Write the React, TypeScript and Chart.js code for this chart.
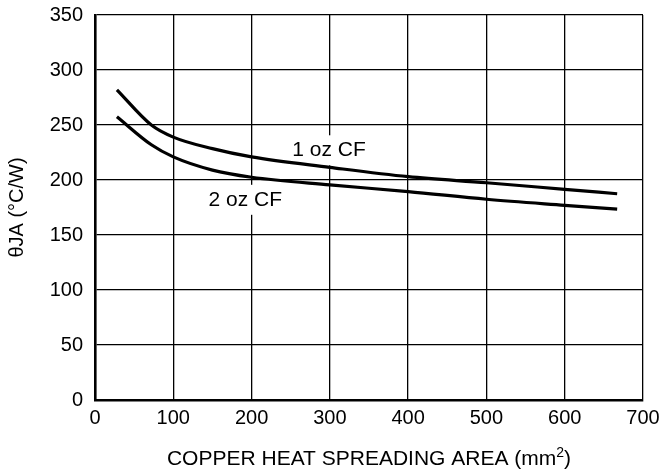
import React, { useEffect, useRef } from "react";
import { Chart, registerables } from "chart.js";

Chart.register(...registerables);

const xTicks = [0, 100, 200, 300, 400, 500, 600, 700];
const yTicks = [0, 50, 100, 150, 200, 250, 300, 350];

const oneOzX = [28, 72, 100, 150, 200, 300, 400, 500, 600, 667];
const oneOzY = [282, 250, 239, 228.5, 221, 211.5, 203, 197.5, 191.5, 187.5];

const twoOzX = [28, 72, 100, 150, 200, 300, 400, 500, 600, 667];
const twoOzY = [257.5, 232, 221, 209, 202.5, 195.5, 189.5, 182.5, 177, 173.5];

const curveLabels = ["1 oz CF", "2 oz CF"];
const curveLabelX = [299, 192];
const curveLabelY = [227, 182];

const xTitleMain = "COPPER HEAT SPREADING AREA (mm";
const xTitleSup = "2";
const xTitleEnd = ")";

const FONT = "'Liberation Sans', Arial, Helvetica, sans-serif";

export default function App() {
  const ref = useRef<HTMLCanvasElement | null>(null);

  useEffect(() => {
    if (!ref.current) return;
    const textPlugin = {
      id: "texts",
      beforeDatasetsDraw(chart: any) {
        const { ctx, scales } = chart;
        ctx.save();
        ctx.font = `21px ${FONT}`;
        ctx.fillStyle = "#fff";
        curveLabels.forEach((t, i) => {
          const w = ctx.measureText(t).width + 8;
          const px = scales.x.getPixelForValue(curveLabelX[i]);
          const py = scales.y.getPixelForValue(curveLabelY[i]);
          ctx.fillRect(px - w / 2, py - 15, w, 30);
        });
        ctx.restore();
      },
      afterDraw(chart: any) {
        const { ctx, scales, chartArea } = chart;
        ctx.save();
        ctx.fillStyle = "#000";
        ctx.font = `21px ${FONT}`;
        ctx.textAlign = "center";
        ctx.textBaseline = "middle";
        curveLabels.forEach((t, i) => {
          ctx.fillText(
            t,
            scales.x.getPixelForValue(curveLabelX[i]),
            scales.y.getPixelForValue(curveLabelY[i])
          );
        });
        ctx.textBaseline = "alphabetic";
        ctx.textAlign = "left";
        const mainFont = `21px ${FONT}`;
        const supFont = `14px ${FONT}`;
        ctx.font = mainFont;
        const w1 = ctx.measureText(xTitleMain).width;
        const w3 = ctx.measureText(xTitleEnd).width;
        ctx.font = supFont;
        const w2 = ctx.measureText(xTitleSup).width;
        const total = w1 + w2 + w3;
        const cx = (chartArea.left + chartArea.right) / 2;
        const baseY = chartArea.bottom + 65;
        let x0 = cx - total / 2;
        ctx.font = mainFont;
        ctx.fillText(xTitleMain, x0, baseY);
        x0 += w1;
        ctx.font = supFont;
        ctx.fillText(xTitleSup, x0, baseY - 8);
        x0 += w2;
        ctx.font = mainFont;
        ctx.fillText(xTitleEnd, x0, baseY);
        ctx.restore();
      },
    };

    const chart = new Chart(ref.current, {
      type: "line",
      data: {
        datasets: [
          {
            label: "1 oz CF",
            data: oneOzX.map((x, i) => ({ x, y: oneOzY[i] })),
            borderColor: "#000",
            borderWidth: 3.2,
            pointRadius: 0,
            fill: false,
            cubicInterpolationMode: "monotone",
          },
          {
            label: "2 oz CF",
            data: twoOzX.map((x, i) => ({ x, y: twoOzY[i] })),
            borderColor: "#000",
            borderWidth: 3.2,
            pointRadius: 0,
            fill: false,
            cubicInterpolationMode: "monotone",
          },
        ],
      },
      options: {
        animation: false,
        responsive: true,
        maintainAspectRatio: false,
        layout: { padding: { left: 0, right: 18, top: 15, bottom: 0 } },
        plugins: {
          legend: { display: false },
          tooltip: { enabled: false },
        },
        scales: {
          x: {
            type: "linear",
            min: 0,
            max: 700,
            afterBuildTicks(scale: any) {
              scale.ticks = xTicks.map((v) => ({ value: v }));
            },
            afterFit(scale: any) {
              scale.height = 73;
              scale.paddingLeft = 0;
              scale.paddingRight = 0;
            },
            ticks: {
              color: "#000",
              font: { family: FONT, size: 20 },
              padding: 6,
              maxRotation: 0,
            },
            grid: { color: "#000", lineWidth: 1.3, drawTicks: false },
            border: { color: "#000", width: 2.6 },
            title: { display: false },
          },
          y: {
            type: "linear",
            min: 0,
            max: 350,
            afterBuildTicks(scale: any) {
              scale.ticks = yTicks.map((v) => ({ value: v }));
            },
            afterFit(scale: any) {
              scale.width = 95;
              scale.paddingTop = 0;
              scale.paddingBottom = 0;
            },
            ticks: {
              color: "#000",
              font: { family: FONT, size: 20 },
              padding: 12,
            },
            grid: { color: "#000", lineWidth: 1.3, drawTicks: false },
            border: { color: "#000", width: 2.6 },
            title: {
              display: true,
              text: "θJA (°C/W)",
              color: "#000",
              font: { family: FONT, size: 20 },
              padding: { top: 5, bottom: 0 },
            },
          },
        },
      },
      plugins: [textPlugin],
    });
    return () => chart.destroy();
  }, []);

  return (
    <div
      style={{
        position: "fixed",
        left: 0,
        top: 0,
        width: 661,
        height: 473,
        background: "#fff",
      }}
    >
      <canvas ref={ref} />
    </div>
  );
}
